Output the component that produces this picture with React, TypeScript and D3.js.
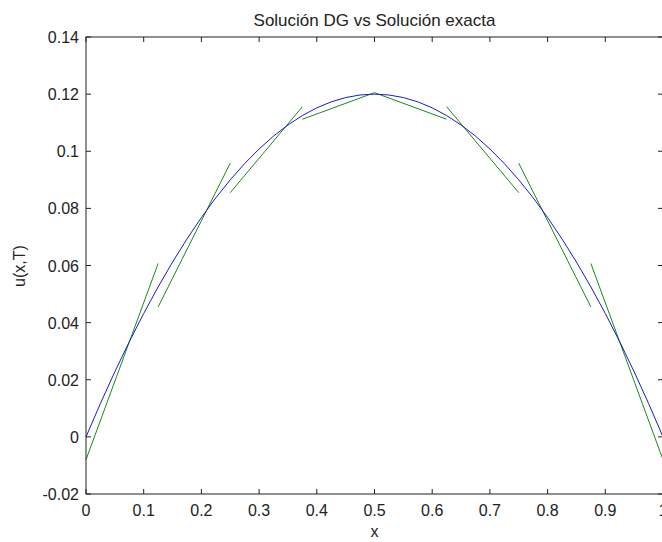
import React from "react";
import * as d3 from "d3";

const xTicks = [0, 0.1, 0.2, 0.3, 0.4, 0.5, 0.6, 0.7, 0.8, 0.9, 1];
const yTicks = [-0.02, 0, 0.02, 0.04, 0.06, 0.08, 0.1, 0.12, 0.14];
const yTickLabels = ["-0.02", "0", "0.02", "0.04", "0.06", "0.08", "0.1", "0.12", "0.14"];

// exact solution (blue)
const exactX = [0, 0.025, 0.05, 0.075, 0.1, 0.125, 0.15, 0.175, 0.2, 0.225, 0.25, 0.275, 0.3, 0.325, 0.35, 0.375, 0.4, 0.425, 0.45, 0.475, 0.5,
  0.525, 0.55, 0.575, 0.6, 0.625, 0.65, 0.675, 0.7, 0.725, 0.75, 0.775, 0.8, 0.825, 0.85, 0.875, 0.9, 0.925, 0.95, 0.975, 1];
const exactY = [0, 0.0117, 0.0228, 0.0333, 0.0432, 0.0525, 0.0612, 0.0693, 0.0768, 0.0837, 0.09, 0.0957, 0.1008, 0.1053, 0.1092, 0.1125, 0.1152, 0.1173, 0.1188, 0.1197, 0.12,
  0.1197, 0.1188, 0.1173, 0.1152, 0.1125, 0.1092, 0.1053, 0.1008, 0.0957, 0.09, 0.0837, 0.0768, 0.0693, 0.0612, 0.0525, 0.0432, 0.0333, 0.0228, 0.0117, 0];

// DG solution (green), one linear piece per element
const dgX0 = [0, 0.125, 0.25, 0.375, 0.5, 0.625, 0.75, 0.875];
const dgX1 = [0.125, 0.25, 0.375, 0.5, 0.625, 0.75, 0.875, 1];
const dgY0 = [-0.008, 0.0455, 0.0855, 0.1112, 0.1205, 0.1156, 0.0958, 0.0607];
const dgY1 = [0.0607, 0.0958, 0.1156, 0.1205, 0.1112, 0.0855, 0.0455, -0.008];

const W = 662, H = 542;
const L = 86, R = 663, T = 37, B = 494;
const FONT = "'Liberation Sans', Arial, Helvetica, sans-serif";

export default function App() {
  const x = d3.scaleLinear().domain([0, 1]).range([L, R]);
  const y = d3.scaleLinear().domain([-0.02, 0.14]).range([B, T]);
  const line = d3.line<[number, number]>().x((d) => x(d[0])).y((d) => y(d[1]));
  const exactPts: [number, number][] = exactX.map((v, i) => [v, exactY[i]]);
  const tl = 5;
  return (
    <svg width={W} height={H} style={{ position: "absolute", left: 0, top: 0, background: "#fff" }}>
      <rect x={0} y={0} width={W} height={H} fill="#fff" />
      {dgX0.map((v, i) => (
        <path key={"g" + i} d={line([[v, dgY0[i]], [dgX1[i], dgY1[i]]]) || ""} stroke="#1a8a1a" strokeWidth={1} fill="none" />
      ))}
      <path d={line(exactPts) || ""} stroke="#1a1ad0" strokeWidth={1} fill="none" />
      <rect x={L} y={T} width={R - L} height={B - T} fill="none" stroke="#222" strokeWidth={1} />
      {xTicks.map((t, i) => (
        <g key={"xt" + i}>
          <line x1={x(t)} x2={x(t)} y1={B} y2={B - tl} stroke="#222" />
          <line x1={x(t)} x2={x(t)} y1={T} y2={T + tl} stroke="#222" />
          <text x={x(t)} y={B + 22} textAnchor="middle" fontFamily={FONT} fontSize={16} fill="#222">
            {String(t)}
          </text>
        </g>
      ))}
      {yTicks.map((t, i) => (
        <g key={"yt" + i}>
          <line x1={L} x2={L + tl} y1={y(t)} y2={y(t)} stroke="#222" />
          <line x1={R} x2={R - tl} y1={y(t)} y2={y(t)} stroke="#222" />
          <text x={L - 7} y={y(t) + 6} textAnchor="end" fontFamily={FONT} fontSize={16} fill="#222">
            {yTickLabels[i]}
          </text>
        </g>
      ))}
      <text x={(L + R) / 2} y={26} textAnchor="middle" fontFamily={FONT} fontSize={17} fill="#222">
        Solución DG vs Solución exacta
      </text>
      <text x={(L + R) / 2} y={537} textAnchor="middle" fontFamily={FONT} fontSize={16} fill="#222">
        x
      </text>
      <text transform={`translate(25, 266) rotate(-90)`} textAnchor="middle" fontFamily={FONT} fontSize={16} fill="#222">
        u(x,T)
      </text>
    </svg>
  );
}
